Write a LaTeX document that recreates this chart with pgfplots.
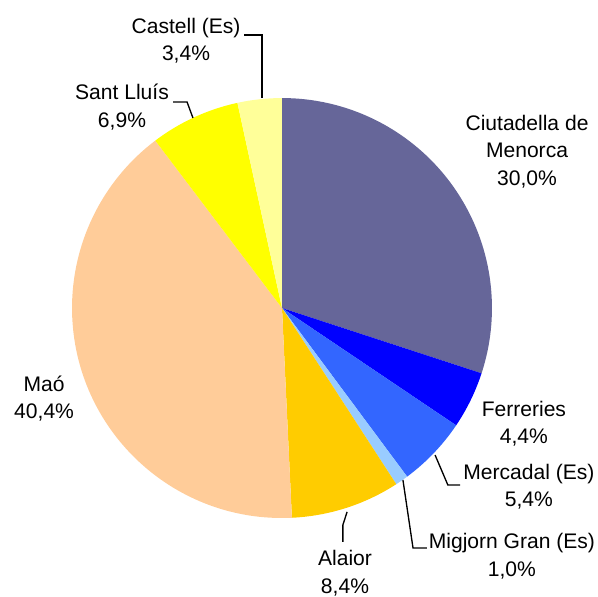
\documentclass[border=0pt]{standalone}
\usepackage{fontspec}
\setmainfont{Liberation Sans}
\usepackage{pgfplots}
\usepackage{pgfplotstable}
\pgfplotsset{compat=1.18}
\definecolor{c0}{HTML}{666699}
\definecolor{c1}{HTML}{0000FF}
\definecolor{c2}{HTML}{3366FF}
\definecolor{c3}{HTML}{99CCFF}
\definecolor{c4}{HTML}{FFCC00}
\definecolor{c5}{HTML}{FFCC99}
\definecolor{c6}{HTML}{FFFF00}
\definecolor{c7}{HTML}{FFFF99}
\tikzset{lbl/.style={font=\fontsize{15.8}{20.6}\selectfont, align=center, inner sep=0pt}}

% share of each municipality, clockwise from 12 o'clock
\pgfplotstableread{
value
30.0
4.4
5.4
1.0
8.4
40.4
6.9
3.4
}\piedata

\begin{document}
\begin{tikzpicture}
\begin{axis}[
    hide axis,
    x=157.5pt, y=157.5pt,
    xmin=-1.343, xmax=1.505,
    ymin=-1.376, ymax=1.467,
    clip=false,
]
\coordinate (ll) at (rel axis cs:0,0);
\coordinate (ur) at (rel axis cs:1,1);
% total
\def\acc{0}
\pgfplotsforeachungrouped \i in {0,...,7}{%
    \pgfplotstablegetelem{\i}{value}\of\piedata
    \pgfmathsetmacro\acc{\acc+\pgfplotsretval}%
}
\let\total\acc
\def\start{90}
\pgfplotsforeachungrouped \i in {0,...,7}{%
    \pgfplotstablegetelem{\i}{value}\of\piedata
    \pgfmathsetmacro\stop{\start-360*\pgfplotsretval/\total}%
    \edef\cmd{\noexpand\fill[c\i] (axis cs:0,0) -- ++(\start:157.5pt)
        arc[start angle=\start, end angle=\stop, radius=157.5pt] -- cycle;}%
    \cmd
    \let\start\stop
}
% leader lines
\draw[line width=1pt] (axis cs:-0.095,1.0) -- (axis cs:-0.095,1.3) -- (axis cs:-0.181,1.3);
\draw[line width=1pt] (axis cs:-0.424,0.905) -- (axis cs:-0.452,0.981) -- (axis cs:-0.519,0.981);
\draw[line width=1pt] (axis cs:0.729,-0.7) -- (axis cs:0.790,-0.843) -- (axis cs:0.848,-0.843);
\draw[line width=1pt] (axis cs:0.576,-0.819) -- (axis cs:0.624,-1.143) -- (axis cs:0.690,-1.143);
\draw[line width=1pt] (axis cs:0.310,-0.971) -- (axis cs:0.290,-1.033) -- (axis cs:0.290,-1.114);
% labels
\node[lbl] at (axis cs:-0.457,1.273) {Castell (Es)\\3,4\%};
\node[lbl] at (axis cs:-0.762,0.957) {Sant Lluís\\6,9\%};
\node[lbl] at (axis cs:1.167,0.745) {Ciutadella de\\Menorca\\30,0\%};
\node[lbl] at (axis cs:-1.133,-0.432) {Maó\\40,4\%};
\node[lbl] at (axis cs:1.152,-0.552) {Ferreries\\4,4\%};
\node[lbl] at (axis cs:1.176,-0.850) {Mercadal (Es)\\5,4\%};
\node[lbl] at (axis cs:1.095,-1.181) {Migjorn Gran (Es)\\1,0\%};
\node[lbl] at (axis cs:0.300,-1.262) {Alaior\\8,4\%};
\end{axis}
\pgfresetboundingbox
\path (ll) rectangle (ur);
\end{tikzpicture}
\end{document}
